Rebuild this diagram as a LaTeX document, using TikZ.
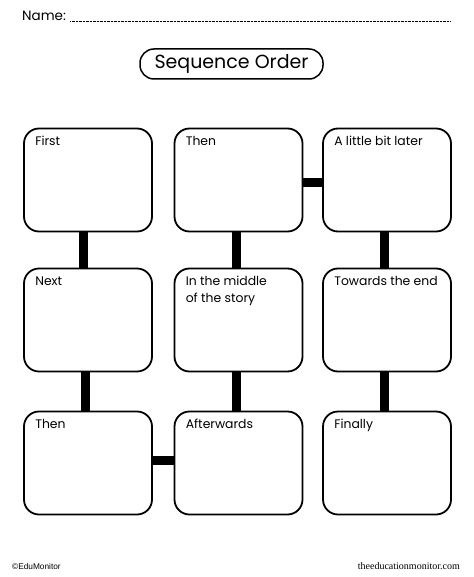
\documentclass[tikz,border=0pt]{standalone}
\usepackage{fontspec}
\setmainfont{Poppins}
\newfontfamily\footsans{Liberation Sans}
\newfontfamily\footserif{Liberation Serif}
\usepackage{tikz}
\usetikzlibrary{positioning,calc}
\tikzset{
  seqbox/.style={draw,line width=1.8pt,rounded corners=15pt,minimum width=128pt,minimum height=103pt,inner sep=0pt},
  seqlabel/.style={anchor=north west,align=left,inner sep=0pt,font=\fontsize{12.4}{17}\selectfont,
    execute at begin node=\vphantom{Thfl}},
  linkbar/.style={line width=9pt}
}

\begin{document}
\begin{tikzpicture}[x=1pt,y=-1pt]
  \useasboundingbox (0,0) rectangle (473,577);
  % header
  \node[anchor=base west,inner sep=0pt,font=\fontsize{13.5}{15}\selectfont] (name) at (22,21) {Name:};
  \coordinate (nameend) at (450,21);
  \draw[line width=0.5pt,dash pattern=on 0.5pt off 0.9pt] ([xshift=4pt]name.base east) -- (nameend);
  \node[draw,line width=1.5pt,rounded corners=14pt,minimum width=183pt,minimum height=30pt,font=\fontsize{19}{21}\selectfont] (title) at (231.5,64) {Sequence Order};
  % boxes
  \foreach \n/\x/\y/\txt in {b1/88/180/First, b2/238.5/180/Then, b3/387/180/A little bit later,
                             b4/88/320/Next, b5/238.5/320/{In the middle\\of the story}, b6/387/320/Towards the end,
                             b7/88/463/Then, b8/238.5/463/Afterwards, b9/387/463/Finally} {
    \node[seqbox] (\n) at (\x,\y) {};
    \node[seqlabel] (\n-lab) at ([xshift=12pt,yshift=-8.5pt]\n.north west) {\txt};
  }
  % links
  \draw[linkbar] ([xshift=-5pt]b1.south) -- ([xshift=-5pt]b4.north);
  \draw[linkbar] ([xshift=-3pt]b4.south) -- ([xshift=-3pt]b7.north);
  \draw[linkbar] ([xshift=-2.5pt]b2.south) -- ([xshift=-2.5pt]b5.north);
  \draw[linkbar] ([xshift=-2.5pt]b5.south) -- ([xshift=-2.5pt]b8.north);
  \draw[linkbar] ([xshift=-3pt]b3.south) -- ([xshift=-3pt]b6.north);
  \draw[linkbar] ([xshift=-3pt]b6.south) -- ([xshift=-3pt]b9.north);
  \draw[linkbar] ([yshift=-3pt]b2.east) -- ([yshift=-3pt]b3.west);
  \draw[linkbar] ([yshift=3pt]b7.east) -- ([yshift=3pt]b8.west);
  % footer
  \node[anchor=base west,inner sep=0pt,font=\footsans\fontsize{8.3}{9}\selectfont] (copy) at (12,569) {\textcopyright EduMonitor};
  \node[anchor=base east,inner sep=0pt,font=\footserif\fontsize{10}{11}\selectfont] (site) at (460,569) {theeducationmonitor.com};
\end{tikzpicture}
\end{document}
